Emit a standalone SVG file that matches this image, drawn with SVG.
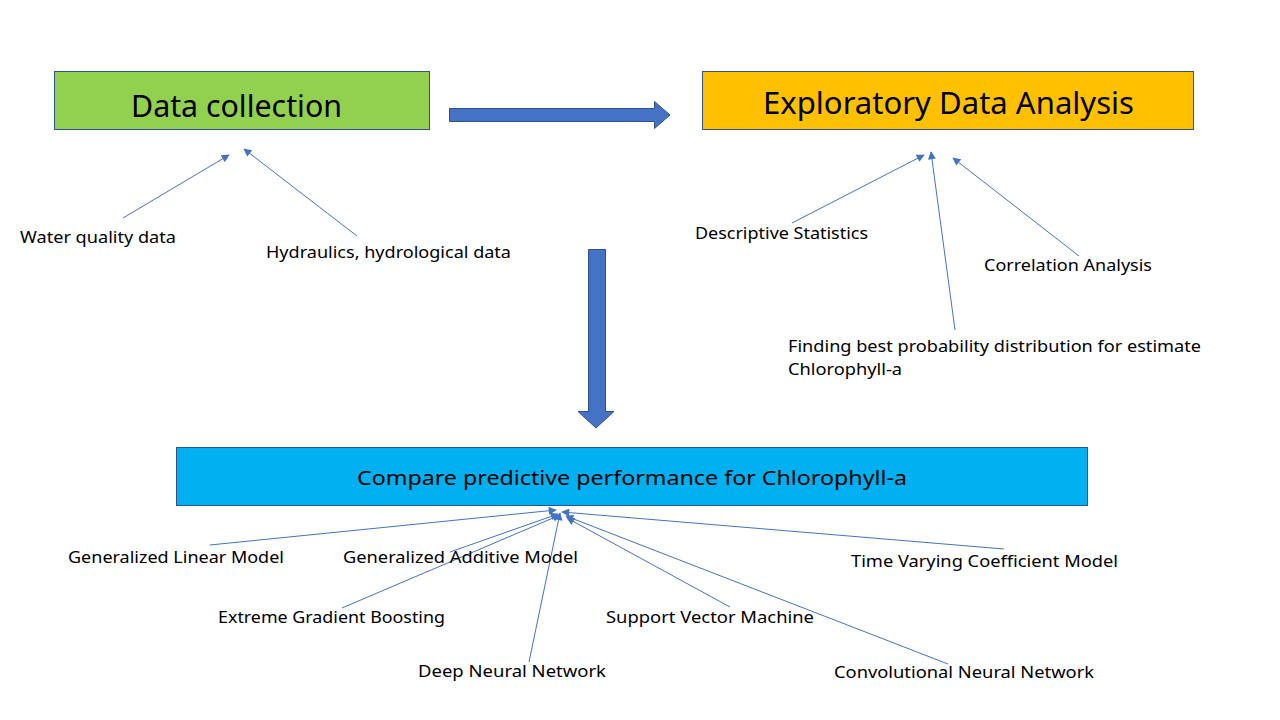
<svg xmlns="http://www.w3.org/2000/svg" width="1280" height="720" viewBox="0 0 1280 720">
<defs>
<marker id="ah" viewBox="0 0 10 10" refX="9" refY="5" markerWidth="9" markerHeight="8" markerUnits="userSpaceOnUse" orient="auto">
<path d="M0,0 L10,5 L0,10 z" fill="#4472C4"/>
</marker>
<style>
.box{stroke:#2F528F;stroke-width:1}
.blk{fill:#4472C4;stroke:#2F528F;stroke-width:1}
.ln{stroke:#4472C4;stroke-width:1;fill:none;marker-end:url(#ah)}
text{font-family:"Noto Sans","Liberation Sans",sans-serif;fill:#000}
.lb{font-size:16px}
.ttl{font-size:30px}
</style>
</defs>
<rect width="1280" height="720" fill="#FFFFFF"/>
<g id="data-collection">
<rect class="box" x="54.5" y="71.5" width="375" height="58" fill="#92D050"/>
<text class="ttl" x="131" y="117" textLength="211" lengthAdjust="spacingAndGlyphs">Data collection</text>
</g>
<g id="eda">
<rect class="box" x="702.5" y="71.5" width="491" height="58" fill="#FFC000"/>
<text class="ttl" x="763" y="114" textLength="371" lengthAdjust="spacingAndGlyphs" style="font-size:31px">Exploratory Data Analysis</text>
</g>
<g id="compare">
<rect class="box" x="176.5" y="447.5" width="911" height="58" fill="#00B0F0"/>
<text x="357" y="485" textLength="550" lengthAdjust="spacingAndGlyphs" style="font-size:20px">Compare predictive performance for Chlorophyll-a</text>
</g>
<g id="block-arrows">
<path class="blk" d="M449.5,108.5 L654.5,108.5 L654.5,101.5 L670,115 L654.5,128.5 L654.5,121.5 L449.5,121.5 z"/>
<path class="blk" d="M588.5,249.5 L605.5,249.5 L605.5,411.5 L614,411.5 L596,428 L578,411.5 L588.5,411.5 z"/>
</g>
<g id="connectors">
<line class="ln" x1="123" y1="218" x2="229" y2="155"/>
<line class="ln" x1="357" y1="236" x2="244" y2="149"/>
<line class="ln" x1="792" y1="223" x2="924" y2="155"/>
<line class="ln" x1="955" y1="330" x2="931" y2="152"/>
<line class="ln" x1="1079" y1="256" x2="953" y2="158"/>
<line class="ln" x1="210" y1="545" x2="556" y2="510"/>
<line class="ln" x1="450" y1="552" x2="558" y2="514"/>
<line class="ln" x1="342" y1="608" x2="560" y2="515"/>
<line class="ln" x1="529" y1="662" x2="560" y2="513"/>
<line class="ln" x1="1004" y1="549" x2="562" y2="512"/>
<line class="ln" x1="730" y1="607" x2="567" y2="518"/>
<line class="ln" x1="948" y1="664" x2="566" y2="516"/>
</g>
<g id="labels">
<text class="lb" x="20" y="243" textLength="156" lengthAdjust="spacingAndGlyphs">Water quality data</text>
<text class="lb" x="266" y="258" textLength="245" lengthAdjust="spacingAndGlyphs">Hydraulics, hydrological data</text>
<text class="lb" x="695" y="239" textLength="173" lengthAdjust="spacingAndGlyphs">Descriptive Statistics</text>
<text class="lb" x="984" y="271" textLength="168" lengthAdjust="spacingAndGlyphs">Correlation Analysis</text>
<text class="lb" x="788" y="352" textLength="413" lengthAdjust="spacingAndGlyphs">Finding best probability distribution for estimate</text>
<text class="lb" x="788" y="375" textLength="114" lengthAdjust="spacingAndGlyphs">Chlorophyll-a</text>
<text class="lb" x="68" y="563" textLength="216" lengthAdjust="spacingAndGlyphs">Generalized Linear Model</text>
<text class="lb" x="343" y="563" textLength="235" lengthAdjust="spacingAndGlyphs">Generalized Additive Model</text>
<text class="lb" x="851" y="567" textLength="267" lengthAdjust="spacingAndGlyphs">Time Varying Coefficient Model</text>
<text class="lb" x="218" y="623" textLength="227" lengthAdjust="spacingAndGlyphs">Extreme Gradient Boosting</text>
<text class="lb" x="606" y="623" textLength="208" lengthAdjust="spacingAndGlyphs">Support Vector Machine</text>
<text class="lb" x="418" y="677" textLength="188" lengthAdjust="spacingAndGlyphs">Deep Neural Network</text>
<text class="lb" x="834" y="678" textLength="260" lengthAdjust="spacingAndGlyphs">Convolutional Neural Network</text>
</g>
</svg>
